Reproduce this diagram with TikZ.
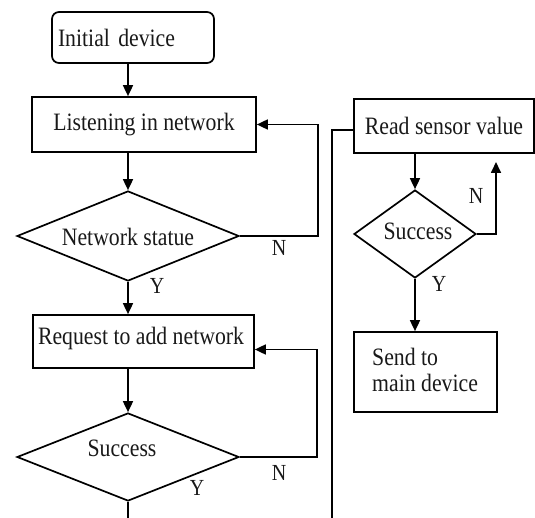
\documentclass[tikz,border=0pt]{standalone}
\usepackage{fontspec}
\setmainfont{Liberation Serif}[FakeStretch=0.87]
\usetikzlibrary{arrows.meta,shapes.geometric}
\begin{document}
\begin{tikzpicture}[x=1pt,y=-1pt,
  every node/.style={font=\fontsize{25}{26.5}\selectfont, text=black!90},
  box/.style={draw=black, line width=1.7pt, inner sep=0pt},
  dia/.style={draw=black, line width=1.7pt, diamond, inner sep=0pt},
  lbl/.style={font=\fontsize{23}{24}\selectfont, inner sep=0pt},
  conn/.style={draw=black, line width=1.7pt},
  arr/.style={conn, -{Triangle[length=11pt,width=10pt]}}]
\useasboundingbox (0,0) rectangle (535,518);
\begin{scope}
\clip (0,0) rectangle (535,518);
% left column
\node[box, rounded corners=7pt, minimum height=51pt, text width=150pt, inner xsep=6pt, align=left] (init) at (133,37.5) {Initial device};
\node[box, minimum width=224pt, minimum height=55pt] (listen) at (144,124.5) {Listening in network};
\node[dia, minimum width=222pt, minimum height=90pt] (ns) at (128,236) {};
\node (nstxt) at (128,237) {Network statue};
\node[box, minimum width=221pt, minimum height=53pt] (req) at (143.5,341.5) {};
\node (reqtxt) at (141,338) {Request to add network};
\node[dia, minimum width=222pt, minimum height=88pt] (s1) at (128,457) {};
\node (s1txt) at (122,448) {Success};
\coordinate (bot1) at (128,530);
% right column
\node[box, minimum width=180pt, minimum height=54pt] (read) at (444,126) {Read sensor value};
\node[dia, minimum width=122pt, minimum height=88pt] (s2) at (415,234) {};
\node (s2txt) at (418,231) {Success};
\node[box, minimum width=143pt, minimum height=80pt] (send) at (425.5,372) {};
\node[anchor=west, align=left, inner sep=0pt] (sendtxt) at (372,370) {Send to\\main device};
\coordinate (bot2) at (332,530);
\coordinate (up2) at (496,162);
% connectors
\draw[arr] (init.south -| ns.north) -- (listen.north -| ns.north);
\draw[arr] (listen.south -| ns.north) -- (ns.north);
\draw[arr] (ns.east) -- ++(78,0) |- (listen.east);
\draw[arr] (ns.south) -- (req.north -| ns.south);
\draw[arr] (req.south -| s1.north) -- (s1.north);
\draw[arr] (s1.east) -- ++(77,0) |- ([yshift=-8pt]req.east);
\draw[conn] (s1.south) -- (bot1);
\draw[conn] (bot2) |- ([yshift=-4pt]read.west);
\draw[arr] (read.south -| s2.north) -- (s2.north);
\draw[arr] (s2.east) -| (up2);
\draw[arr] (s2.south) -- (send.north -| s2.south);
% labels
\node[lbl] (n1) at (279,248) {N};
\node[lbl] (y1) at (157,286) {Y};
\node[lbl] (n2) at (279,473) {N};
\node[lbl] (y2) at (197,488) {Y};
\node[lbl] (n3) at (476,196) {N};
\node[lbl] (y3) at (439,284) {Y};
\end{scope}
\end{tikzpicture}
\end{document}
